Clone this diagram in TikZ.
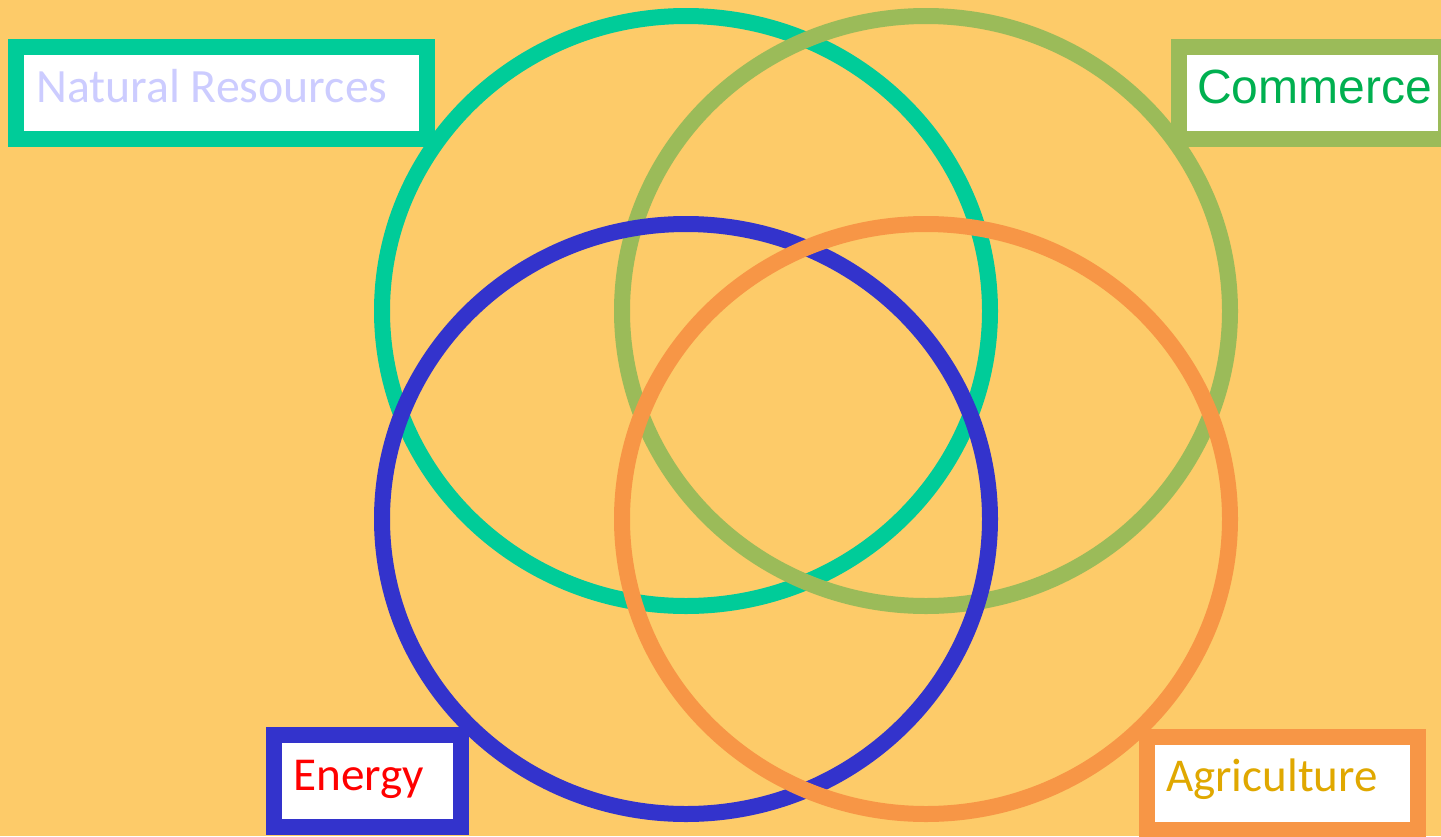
\documentclass[tikz,border=0pt]{standalone}
\usepackage{fontspec}
\setmainfont{Carlito}
\newfontfamily\arialfont{Liberation Sans}
\definecolor{bgyellow}{HTML}{FDCB69}
\definecolor{nrteal}{HTML}{00CC99}
\definecolor{comgreen}{HTML}{9BBB59}
\definecolor{enblue}{HTML}{3333CC}
\definecolor{agorange}{HTML}{F79646}
\definecolor{nrtext}{HTML}{CCCCFF}
\definecolor{comtext}{HTML}{00B050}
\definecolor{agtext}{HTML}{E0A800}
\tikzset{
  ring/.style={line width=16pt},
  labelbox/.style={draw, fill=white, line width=16pt, inner sep=0pt, minimum height=92pt},
  labeltext/.style={anchor=base west, inner sep=0pt},
}
\begin{document}
\begin{tikzpicture}[x=1pt,y=-1pt]
  \clip (0,0) rectangle (1441,836);
  \fill[bgyellow] (0,0) rectangle (1441,836);
  % four overlapping rings
  \foreach \cx/\cy/\col in {686/311/nrteal, 926/311/comgreen, 686/519/enblue, 926/519/agorange} {
    \draw[ring,\col] (\cx,\cy) ellipse [x radius=304, y radius=295];
  }
  % label boxes
  \node[labelbox, draw=nrteal, minimum width=411pt] (nrbox) at (221.5,93) {};
  \node[labelbox, draw=comgreen, minimum width=267pt] (combox) at (1312.5,93) {};
  \node[labelbox, draw=enblue, minimum width=187.5pt] (enbox) at (367.25,781) {};
  \node[labelbox, draw=agorange, minimum width=271pt, minimum height=93pt] (agbox) at (1282.5,783.5) {};
  \node[labeltext, text=nrtext, font=\fontsize{47.8}{57}\selectfont] (nrlabel) at (36,102) {Natural Resources};
  \node[labeltext, text=comtext, font=\arialfont\fontsize{48}{58}\selectfont] (comlabel) at (1197,103) {Commerce};
  \node[labeltext, text=red, font=\fontsize{47.2}{56}\selectfont] (enlabel) at (293,790) {Energy};
  \node[labeltext, text=agtext, font=\fontsize{47}{56}\selectfont] (aglabel) at (1166,791) {Agriculture};
\end{tikzpicture}
\end{document}
